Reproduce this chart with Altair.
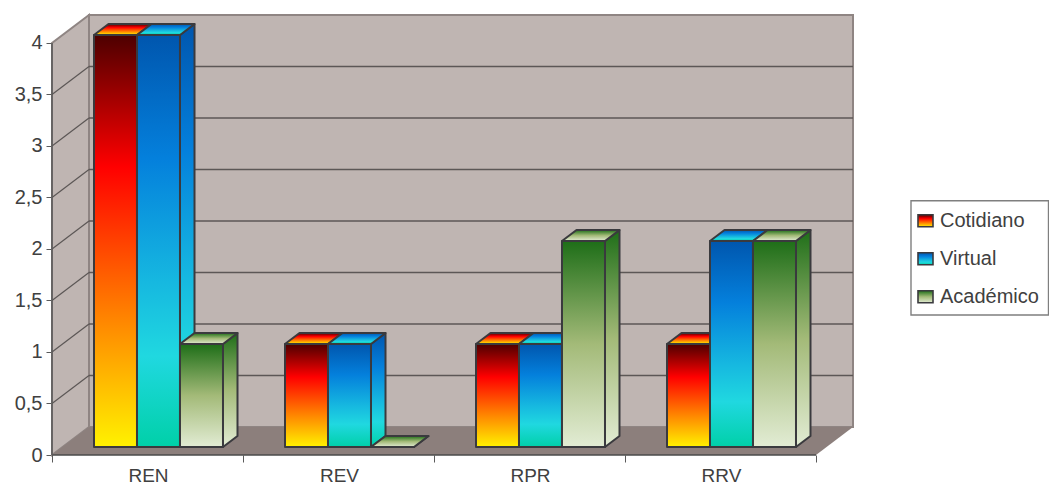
import altair as alt
import pandas as pd

categories = ["REN", "REV", "RPR", "RRV"]
series_names = ["Cotidiano", "Virtual", "Académico"]
cotidiano = [4, 1, 1, 1]
virtual = [4, 1, 1, 2]
academico = [1, 0, 2, 2]
y_ticks = [0, 0.5, 1, 1.5, 2, 2.5, 3, 3.5, 4]

# Oblique projection, in axis units
WALL_DX, WALL_DY = 0.1937, 0.2718
BAR_DX, BAR_DY = 0.076, 0.1068
BAR_START, BAR_WIDTH, BAR_LIFT = 0.2199, 0.2251, 0.0777
X_MAX, Y_MAX = 4 + WALL_DX, 4 + WALL_DY


def ramp(stops):
    return alt.Gradient(
        gradient="linear", x1=0, x2=0, y1=0, y2=1,
        stops=[alt.GradientStop(offset=o, color=c) for o, c in stops],
    )


ramps = [
    ramp([(0, "#4d0000"), (0.32, "#ff0000"), (0.72, "#ff9000"), (1, "#fff200")]),
    ramp([(0, "#0056ae"), (0.3, "#0480dc"), (0.6, "#16b8e0"), (0.78, "#20d8e0"), (1, "#00d0a8")]),
    ramp([(0, "#1e6e18"), (0.5, "#a3ba78"), (1, "#e2ecd4")]),
]

xs = alt.Scale(domain=[0, X_MAX], nice=False, zero=False)
ys = alt.Scale(domain=[0, Y_MAX], nice=False, zero=False)
EDGE = "#3a3a3e"
WALL = "#bfb5b2"
WALL_EDGE = "#8f8583"
FLOOR = "#8c7f7c"
GRID = "#5c5756"
INK = "#404040"
TICK = "#5a5a5a"

x_axis = alt.Axis(
    values=[0, 1, 2, 3, 4], labels=False, domain=False, grid=False,
    tickSize=7, tickColor=TICK, tickWidth=1)
y_axis = alt.Axis(
    values=y_ticks, domain=False, grid=False, tickSize=6, tickColor=TICK, tickWidth=1,
    labelFont="Liberation Sans", labelFontSize=20, labelColor=INK, labelPadding=4,
    labelExpr="replace(format(datum.value, '.1~f'), '.', ',')")


def X(f="x"):
    return alt.X(f"{f}:Q", scale=xs, axis=x_axis, title=None)


def Y(f="y"):
    return alt.Y(f"{f}:Q", scale=ys, axis=y_axis, title=None)


def slanted(rows, **mark):
    """Vertical-edged parallelogram: x runs along two parallel sloped lines."""
    return alt.Chart(pd.DataFrame(rows)).mark_area(**mark).encode(
        x=X(), y=Y(), y2="y2:Q", detail="id:N")


def sheared(rows, **mark):
    """Horizontal-edged parallelogram: y runs between two parallel sloped lines."""
    return alt.Chart(pd.DataFrame(rows)).mark_area(orient="horizontal", **mark).encode(
        y=Y(), x=X(), x2="x2:Q", detail="id:N")


# Room and floor
back_wall = alt.Chart(pd.DataFrame([{"x": WALL_DX, "x2": X_MAX, "y": WALL_DY, "y2": Y_MAX}])).mark_rect(
    color=WALL, stroke=WALL_EDGE, strokeWidth=2).encode(x=X(), x2="x2:Q", y=Y(), y2="y2:Q")
left_wall = slanted(
    [{"id": 0, "x": 0, "y": 0, "y2": 4}, {"id": 0, "x": WALL_DX, "y": WALL_DY, "y2": Y_MAX}],
    color=WALL, stroke=WALL_EDGE, strokeWidth=2)
floor = sheared(
    [{"id": 0, "y": 0, "x": 0, "x2": 4}, {"id": 0, "y": WALL_DY, "x": WALL_DX, "x2": X_MAX}],
    color=FLOOR)

# Value gridlines on both walls
grid_values = [t for t in y_ticks if 0 < t < 4]
back_grid = alt.Chart(pd.DataFrame(
    [{"x": WALL_DX, "x2": X_MAX, "y": t + WALL_DY} for t in grid_values]
)).mark_rule(color=GRID, strokeWidth=1.4).encode(x=X(), x2="x2:Q", y=Y())
side_rows = []
for t in grid_values:
    side_rows += [{"id": t, "x": 0, "y": t}, {"id": t, "x": WALL_DX, "y": t + WALL_DY}]
side_grid = alt.Chart(pd.DataFrame(side_rows)).mark_line(color=GRID, strokeWidth=1.2).encode(
    x=X(), y=Y(), detail="id:N", order="x:Q")

# Base lines of both axes
x_line = alt.Chart(pd.DataFrame([{"x": 0, "x2": 4, "y": 0}])).mark_rule(
    color="#4a4a4a", strokeWidth=1.6).encode(x=X(), x2="x2:Q", y=Y())
y_line = alt.Chart(pd.DataFrame([{"x": 0, "y": 0, "y2": 4}])).mark_rule(
    color=TICK, strokeWidth=1.5).encode(x=X(), y=Y(), y2="y2:Q")
x_labels = alt.Chart(pd.DataFrame(
    {"label": categories, "x": [i + 0.5 for i in range(4)], "y": [0] * 4}
)).mark_text(font="Liberation Sans", fontSize=19, color=INK, baseline="alphabetic", dy=27, dx=1).encode(
    x=X(), y=Y(), text="label:N")

# One set of side, top and front faces per series, drawn left to right
bar_layers = []
for s, values in enumerate([cotidiano, virtual, academico]):
    sides, tops, fronts = [], [], []
    for c, v in enumerate(values):
        x0 = c + BAR_START + s * BAR_WIDTH
        x1 = x0 + BAR_WIDTH
        y0 = BAR_LIFT
        y1 = v + BAR_LIFT
        fronts.append({"x": x0, "x2": x1, "y": y0, "y2": y1})
        sides += [{"id": c, "x": x1, "y": y0, "y2": y1},
                  {"id": c, "x": x1 + BAR_DX, "y": y0 + BAR_DY, "y2": y1 + BAR_DY}]
        tops += [{"id": c, "y": y1, "x": x0, "x2": x1},
                 {"id": c, "y": y1 + BAR_DY, "x": x0 + BAR_DX, "x2": x1 + BAR_DX}]
    style = dict(color=ramps[s], stroke=EDGE, strokeWidth=2, strokeJoin="round")
    bar_layers += [
        slanted(sides, **style),
        sheared(tops, **style),
        alt.Chart(pd.DataFrame(fronts)).mark_rect(**style).encode(
            x=X(), x2="x2:Q", y=Y(), y2="y2:Q"),
    ]

# Legend panel, placed in pixels relative to the plot area
PLOT_LEFT, PLOT_TOP = 52, 15
dummy = pd.DataFrame({"a": [0]})
legend_layers = [
    alt.Chart(dummy).mark_rect(color="white", stroke="#7f7f7f", strokeWidth=1.4).encode(
        x=alt.value(911 - PLOT_LEFT), x2=alt.value(1048.5 - PLOT_LEFT),
        y=alt.value(200.7 - PLOT_TOP), y2=alt.value(315 - PLOT_TOP))
]
for s, name in enumerate(series_names):
    cy = 220.8 + s * 38 - PLOT_TOP
    legend_layers.append(
        alt.Chart(dummy).mark_rect(color=ramps[s], stroke=EDGE, strokeWidth=1.6).encode(
            x=alt.value(918 - PLOT_LEFT), x2=alt.value(933 - PLOT_LEFT),
            y=alt.value(cy - 6), y2=alt.value(cy + 6)))
    legend_layers.append(
        alt.Chart(pd.DataFrame({"name": [name]})).mark_text(
            font="Liberation Sans", fontSize=20, color=INK, align="left", baseline="middle").encode(
            x=alt.value(940 - PLOT_LEFT), y=alt.value(cy), text="name:N"))

chart = alt.layer(
    back_wall, left_wall, floor, back_grid, side_grid, x_line, y_line, x_labels,
    *bar_layers, *legend_layers,
).properties(
    width=801, height=440,
    padding={"left": PLOT_LEFT, "top": PLOT_TOP, "right": 196, "bottom": 31},
    autosize=alt.AutoSizeParams(type="none"),
    background="white",
).configure_view(stroke=None)

chart.save("out.html", embed_options={"renderer": "svg", "actions": False})
